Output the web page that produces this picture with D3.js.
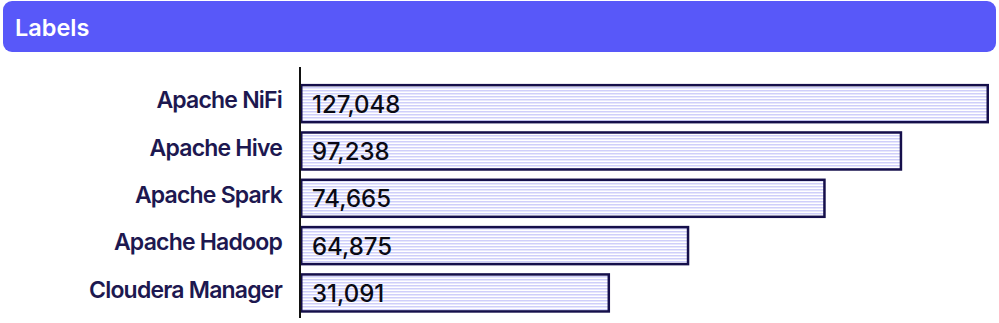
<!DOCTYPE html>
<html>
<head>
<meta charset="utf-8">
<script src="https://cdn.jsdelivr.net/npm/d3@7"></script>
<style>
    body { margin: 0; background: #fff; }
    svg { display: block; }
</style>
</head>
<body>
<div id="chart"></div>
<script>
// Chart data
const title = "Labels";
const categories = ["Apache NiFi", "Apache Hive", "Apache Spark", "Apache Hadoop", "Cloudera Manager"];
// bar lengths (percent of the longest bar)
const barLengths = [100, 87.4, 76.3, 56.5, 45.0];
// value labels printed inside the bars
const valueLabels = ["127,048", "97,238", "74,665", "64,875", "31,091"];

const width = 999;
const height = 323;
const colors = {
    header: '#5858f9',
    stroke: '#150f4b',
    label: '#1d1850',
    stripe: '#cfcffa',
    axis: '#111111'
};
const font = "Inter, 'Noto Sans', sans-serif";

const svg = d3.select('#chart')
    .append('svg')
    .attr('width', width)
    .attr('height', height)
    .attr('font-family', font);

// striped fill
const pattern = svg.append('defs')
    .append('pattern')
    .attr('id', 'stripes')
    .attr('patternUnits', 'userSpaceOnUse')
    .attr('width', 6)
    .attr('height', 3);
pattern.append('rect').attr('width', 6).attr('height', 3).attr('fill', '#ffffff');
pattern.append('rect').attr('width', 6).attr('height', 1.5).attr('fill', colors.stripe);

// Header
svg.append('rect')
    .attr('x', 3)
    .attr('y', 1)
    .attr('width', 993)
    .attr('height', 51)
    .attr('rx', 9)
    .attr('fill', colors.header);

svg.append('text')
    .attr('x', 15)
    .attr('y', 36)
    .attr('fill', '#ffffff')
    .attr('font-size', 23.5)
    .attr('font-weight', 600)
    .text(title);

// Scales
const x = d3.scaleLinear()
    .domain([0, d3.max(barLengths)])
    .range([300, 989]);

const y = d3.scaleBand()
    .domain(categories)
    .range([80, 316.6])
    .paddingInner(0.165)
    .paddingOuter(0.0825);

const chart = svg.append('g');

// Bars
const rows = chart.selectAll('.row')
    .data(categories)
    .join('g')
    .attr('class', 'row');

rows.append('rect')
    .attr('x', x(0) + 1.25)
    .attr('y', d => y(d) + 1.25)
    .attr('width', (d, i) => x(barLengths[i]) - x(0) - 2.5)
    .attr('height', y.bandwidth() - 2.5)
    .attr('fill', 'url(#stripes)')
    .attr('stroke', colors.stroke)
    .attr('stroke-width', 2.5);

rows.append('text')
    .attr('x', x(0) + 12)
    .attr('y', d => y(d) + y.bandwidth() / 2)
    .attr('dy', '0.37em')
    .attr('font-size', 24)
    .attr('font-weight', 500)
    .attr('fill', '#0a0a14')
    .text((d, i) => valueLabels[i]);

// Y axis
const yAxis = d3.axisLeft(y).tickSize(0).tickPadding(18);
const yAxisWrapper = chart.append('g')
    .attr('transform', `translate(${x(0)},0)`)
    .call(yAxis);
yAxisWrapper.select('.domain').remove();
yAxisWrapper.selectAll('text')
    .attr('font-family', font)
    .attr('font-size', 23)
    .attr('font-weight', 600)
    .attr('letter-spacing', -0.8)
    .attr('fill', colors.label)
    .attr('dy', '0.2em');

chart.append('line')
    .attr('x1', x(0))
    .attr('x2', x(0))
    .attr('y1', 67)
    .attr('y2', 318)
    .attr('stroke', colors.axis)
    .attr('stroke-width', 2);
</script>
</body>
</html>
